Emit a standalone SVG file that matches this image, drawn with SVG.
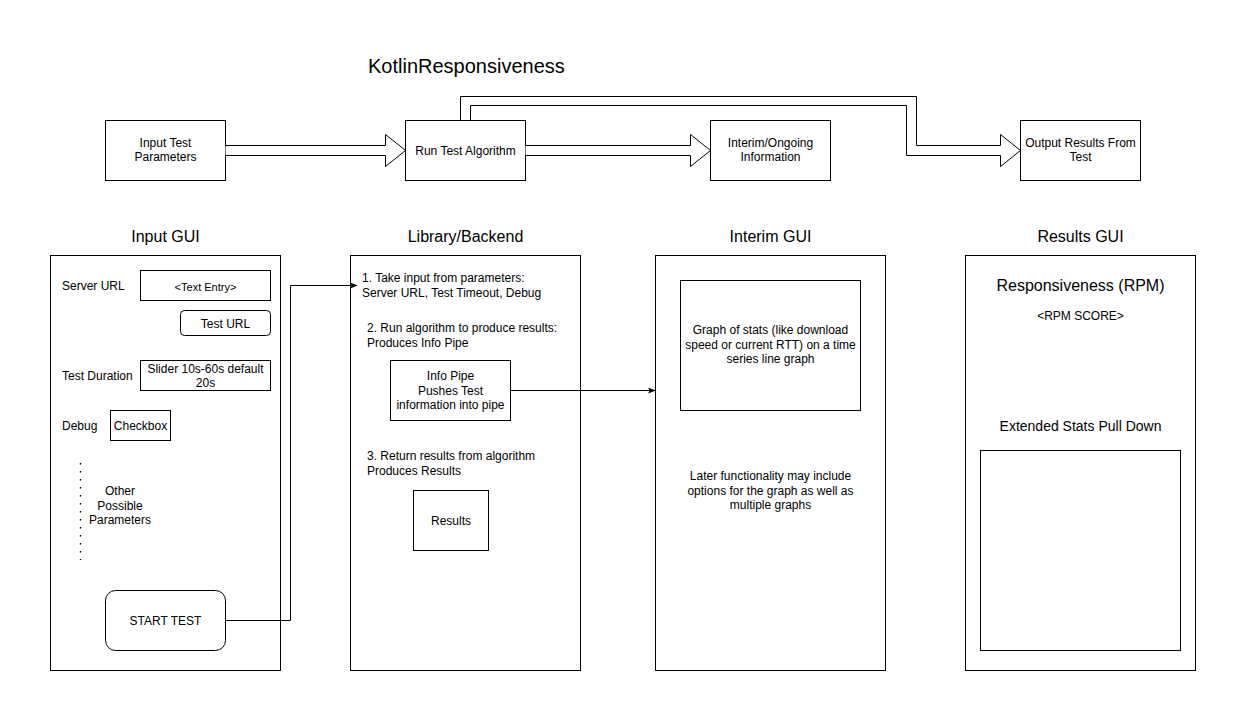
<svg xmlns="http://www.w3.org/2000/svg" width="1246" height="721" viewBox="0 0 1246 721">
  <style>
    text { font-family: "Liberation Sans", Arial, sans-serif; fill: #000; }
    .box { fill: #fff; stroke: #000; stroke-width: 1; }
    .t12 { font-size: 12px; }
    .t11 { font-size: 11px; }
    .t16 { font-size: 16px; }
    .mid { text-anchor: middle; }
    .line { fill: none; stroke: #000; stroke-width: 1; }
    .block { fill: #fff; stroke: #000; stroke-width: 1; stroke-linejoin: miter; }
  </style>
  <defs>
    <marker id="arrow" viewBox="0 0 10 10" refX="9" refY="5" markerWidth="8" markerHeight="8" markerUnits="userSpaceOnUse" orient="auto">
      <path d="M0,1 L10,5 L0,9 L2.5,5 Z" fill="#000"/>
    </marker>
  </defs>
  <rect width="1246" height="721" fill="#fff"/>

  <text x="368" y="73" font-size="20">KotlinResponsiveness</text>

  <!-- top row stages -->
  <g id="input-params">
    <rect class="box" x="105.5" y="120.5" width="120" height="60"/>
    <text class="t12 mid" x="165.5" y="147">Input Test</text>
    <text class="t12 mid" x="165.5" y="161">Parameters</text>
  </g>
  <g id="run-algorithm">
    <rect class="box" x="405.5" y="120.5" width="120" height="60"/>
    <text class="t12 mid" x="465.5" y="155">Run Test Algorithm</text>
  </g>
  <g id="interim-info">
    <rect class="box" x="710.5" y="120.5" width="120" height="60"/>
    <text class="t12 mid" x="770.5" y="147">Interim/Ongoing</text>
    <text class="t12 mid" x="770.5" y="161">Information</text>
  </g>
  <g id="output-results">
    <rect class="box" x="1020.5" y="120.5" width="120" height="60"/>
    <text class="t12 mid" x="1080.5" y="147">Output Results From</text>
    <text class="t12 mid" x="1080.5" y="161">Test</text>
  </g>

  <!-- Input GUI panel -->
  <g id="input-gui">
    <text class="t16 mid" x="165.5" y="242">Input GUI</text>
    <rect class="box" x="50.5" y="255.5" width="230" height="415"/>
    <text class="t12" x="62" y="290">Server URL</text>
    <rect class="box" x="140.5" y="270.5" width="130" height="30"/>
    <text class="t11 mid" x="205.5" y="291">&lt;Text Entry&gt;</text>
    <rect class="box" x="180.5" y="310.5" width="90" height="25" rx="4"/>
    <text class="t12 mid" x="225.5" y="328">Test URL</text>
    <text class="t12" x="62" y="380">Test Duration</text>
    <rect class="box" x="140.5" y="360.5" width="130" height="30"/>
    <text class="t12 mid" x="205.5" y="373">Slider 10s-60s default</text>
    <text class="t12 mid" x="205.5" y="387">20s</text>
    <text class="t12" x="62" y="430">Debug</text>
    <rect class="box" x="110.5" y="410.5" width="60" height="30"/>
    <text class="t12 mid" x="140.5" y="430">Checkbox</text>
    <path d="M80.5,463 V560" stroke="#000" stroke-width="1.4" stroke-dasharray="1.4 6.6" fill="none"/>
    <text class="t12 mid" x="120" y="495">Other</text>
    <text class="t12 mid" x="120" y="510">Possible</text>
    <text class="t12 mid" x="120" y="524">Parameters</text>
  </g>
  <g id="start-test">
    <rect class="box" x="105.5" y="590.5" width="120" height="60" rx="10"/>
    <text class="t12 mid" x="165.5" y="625">START TEST</text>
  </g>

  <!-- Library/Backend panel -->
  <g id="library-backend">
    <text class="t16 mid" x="465.5" y="242">Library/Backend</text>
    <rect class="box" x="350.5" y="255.5" width="230" height="415"/>
    <text class="t12" x="362" y="282">1. Take input from parameters:</text>
    <text class="t12" x="362" y="297">Server URL, Test Timeout, Debug</text>
    <text class="t12" x="367" y="332">2. Run algorithm to produce results:</text>
    <text class="t12" x="367" y="347">Produces Info Pipe</text>
    <text class="t12" x="367" y="460">3. Return results from algorithm</text>
    <text class="t12" x="367" y="475">Produces Results</text>
  </g>
  <g id="info-pipe">
    <rect class="box" x="390.5" y="360.5" width="120" height="60"/>
    <text class="t12 mid" x="450.5" y="380">Info Pipe</text>
    <text class="t12 mid" x="450.5" y="395">Pushes Test</text>
    <text class="t12 mid" x="450.5" y="409">information into pipe</text>
  </g>
  <g id="results">
    <rect class="box" x="413.5" y="490.5" width="75" height="60"/>
    <text class="t12 mid" x="451" y="525">Results</text>
  </g>

  <!-- Interim GUI panel -->
  <g id="interim-gui">
    <text class="t16 mid" x="770.5" y="242">Interim GUI</text>
    <rect class="box" x="655.5" y="255.5" width="230" height="415"/>
    <rect class="box" x="680.5" y="280.5" width="180" height="130"/>
    <text class="t12 mid" x="770.5" y="334">Graph of stats (like download</text>
    <text class="t12 mid" x="770.5" y="349">speed or current RTT)  on a time</text>
    <text class="t12 mid" x="770.5" y="363">series line graph</text>
    <text class="t12 mid" x="770.5" y="480">Later functionality may include</text>
    <text class="t12 mid" x="770.5" y="495">options for the graph as well as</text>
    <text class="t12 mid" x="770.5" y="509">multiple graphs</text>
  </g>

  <!-- Results GUI panel -->
  <g id="results-gui">
    <text class="t16 mid" x="1080.5" y="242">Results GUI</text>
    <rect class="box" x="965.5" y="255.5" width="230" height="415"/>
    <text class="t16 mid" x="1080.5" y="291">Responsiveness (RPM)</text>
    <text class="t12 mid" x="1080.5" y="320">&lt;RPM SCORE&gt;</text>
    <text class="mid" font-size="14" x="1080.5" y="431">Extended Stats Pull Down</text>
    <rect class="box" x="980.5" y="450.5" width="200" height="200"/>
  </g>

  <!-- connectors drawn last so they sit above the panels -->
  <g id="connectors">
    <path class="block" d="M225.5,145.5 H385.5 V134.5 L405.5,150.5 L385.5,166.5 V155.5 H225.5"/>
    <path class="block" d="M525.5,145.5 H690.5 V134.5 L710.5,150.5 L690.5,166.5 V155.5 H525.5"/>
    <path class="block" d="M460.5,120 V96.5 H916.5 V145.5 H1000.5 V134.5 L1020.5,150.5 L1000.5,166.5 V155.5 H906.5 V105.5 H470.5 V120"/>
    <path class="line" d="M225.5,620.5 H290.5 V285.5 H357" marker-end="url(#arrow)"/>
    <path class="line" d="M510.5,390.5 H655" marker-end="url(#arrow)"/>
  </g>
</svg>
